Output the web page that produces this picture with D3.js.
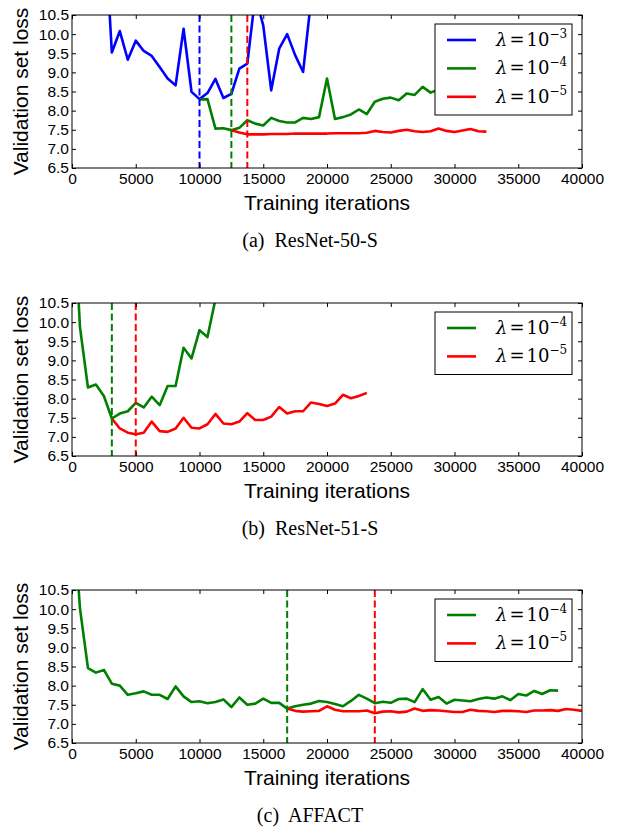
<!DOCTYPE html>
<html>
<head>
<meta charset="utf-8">
<script src="https://cdn.jsdelivr.net/npm/d3@7"></script>
<style>
  body { margin: 0; background: #fff; }
  svg text { font-family: "Liberation Sans", Arial, sans-serif; }
</style>
</head>
<body>
<svg id="chart" width="620" height="830"></svg>
<script>
// validation loss, [iteration, loss]
const blue1 = [[2500,13.2],[3125,9.52],[3750,10.08],[4375,9.33],[5000,9.83],[5625,9.56],[6250,9.43],[6875,9.14],
  [7500,8.84],[8125,8.66],[8750,10.14],[9375,8.49],[10000,8.30],[10625,8.46],[11250,8.83],[11875,8.33],[12500,8.44],
  [13125,9.10],[13750,9.23],[14375,11.0],[15000,10.23],[15625,8.53],[16250,9.62],[16875,10.0],[17500,9.45],
  [18125,9.01],[18750,10.9]];
const green1 = [[10000,8.29],[10625,8.30],[11250,7.53],[11875,7.54],[12500,7.49],[13125,7.55],[13750,7.75],[14375,7.66],
  [15000,7.61],[15625,7.81],[16250,7.73],[16875,7.69],[17500,7.69],[18125,7.81],[18750,7.78],[19375,7.83],[20000,8.84],
  [20625,7.78],[21250,7.83],[21875,7.90],[22500,8.03],[23125,7.91],[23750,8.23],[24375,8.31],[25000,8.34],[25625,8.27],
  [26250,8.45],[26875,8.41],[27500,8.62],[28125,8.47],[28750,8.55],[29375,8.62],[30000,8.70],[30625,8.66],[31250,8.78],
  [31875,8.80],[32500,8.85]];
const red1 = [[12500,7.49],[13125,7.43],[13750,7.38],[14375,7.38],[15000,7.38],[15625,7.39],[16250,7.39],[16875,7.39],
  [17500,7.40],[18125,7.40],[18750,7.40],[19375,7.40],[20000,7.40],[20625,7.41],[21250,7.41],[21875,7.41],[22500,7.41],
  [23125,7.42],[23750,7.47],[24375,7.44],[25000,7.43],[25625,7.47],[26250,7.50],[26875,7.46],[27500,7.44],[28125,7.46],
  [28750,7.53],[29375,7.47],[30000,7.44],[30625,7.48],[31250,7.52],[31875,7.46],[32500,7.45]];

const green2 = [[0,13.8],[625,9.87],[1250,8.29],[1875,8.37],[2500,8.07],[3125,7.48],[3750,7.61],[4375,7.67],[5000,7.89],
  [5625,7.77],[6250,8.05],[6875,7.83],[7500,8.33],[8125,8.33],[8750,9.33],[9375,9.05],[10000,9.79],[10625,9.61],
  [11250,10.6],[11875,11.3]];
const red2 = [[3125,7.48],[3750,7.22],[4375,7.11],[5000,7.07],[5625,7.11],[6250,7.40],[6875,7.15],[7500,7.13],[8125,7.22],
  [8750,7.50],[9375,7.24],[10000,7.22],[10625,7.33],[11250,7.60],[11875,7.35],[12500,7.33],[13125,7.40],[13750,7.62],
  [14375,7.44],[15000,7.44],[15625,7.53],[16250,7.78],[16875,7.61],[17500,7.67],[18125,7.67],[18750,7.90],[19375,7.86],
  [20000,7.81],[20625,7.87],[21250,8.10],[21875,8.01],[22500,8.07],[23125,8.15]];

const green3 = [[0,13.0],[625,10.02],[1250,8.46],[1875,8.34],[2500,8.41],[3125,8.05],[3750,8.00],[4375,7.76],[5000,7.80],
  [5625,7.85],[6250,7.76],[6875,7.76],[7500,7.65],[8125,7.98],[8750,7.72],[9375,7.57],[10000,7.59],[10625,7.54],
  [11250,7.57],[11875,7.64],[12500,7.44],[13125,7.69],[13750,7.50],[14375,7.53],[15000,7.66],[15625,7.55],[16250,7.55],
  [16875,7.40],[17500,7.46],[18125,7.50],[18750,7.53],[19375,7.60],[20000,7.57],[20625,7.52],[21250,7.46],[21875,7.60],
  [22500,7.76],[23125,7.66],[23750,7.54],[24375,7.58],[25000,7.55],[25625,7.65],[26250,7.66],[26875,7.57],[27500,7.91],
  [28125,7.63],[28750,7.70],[29375,7.53],[30000,7.63],[30625,7.61],[31250,7.59],[31875,7.65],[32500,7.69],[33125,7.66],
  [33750,7.72],[34375,7.62],[35000,7.78],[35625,7.74],[36250,7.86],[36875,7.78],[37500,7.88],[38125,7.87]];
const red3 = [[16875,7.40],[17500,7.34],[18125,7.32],[18750,7.33],[19375,7.34],[20000,7.46],[20625,7.37],[21250,7.33],
  [21875,7.33],[22500,7.33],[23125,7.35],[23750,7.28],[24375,7.32],[25000,7.33],[25625,7.30],[26250,7.32],[26875,7.40],
  [27500,7.34],[28125,7.36],[28750,7.35],[29375,7.33],[30000,7.31],[30625,7.31],[31250,7.37],[31875,7.34],[32500,7.33],
  [33125,7.31],[33750,7.34],[34375,7.34],[35000,7.33],[35625,7.31],[36250,7.35],[36875,7.35],[37500,7.36],[38125,7.34],
  [38750,7.39],[39375,7.37],[40000,7.34]];

// best iteration markers (dashed lines)
const best1 = [10000, 12500, 13750];
const best2 = [3125, 5000];
const best3 = [16875, 23750];

const lambdas1 = ["3", "4", "5"];
const lambdas2 = ["4", "5"];
const captions = ["(a)  ResNet-50-S", "(b)  ResNet-51-S", "(c)  AFFACT"];
const xTicks = [0, 5000, 10000, 15000, 20000, 25000, 30000, 35000, 40000];
const yTicks = [6.5, 7.0, 7.5, 8.0, 8.5, 9.0, 9.5, 10.0, 10.5];

const colors = {"3": "#0000ff", "4": "#008000", "5": "#ff0000"};

const svg = d3.select("#chart");
const left = 72, right = 582, plotH = 153;

const x = d3.scaleLinear().domain([0, 40000]).range([left, right]);

const line = d3.line();

function drawPanel(idx, top, series, best, lambdas, caption) {
    const y = d3.scaleLinear().domain([6.5, 10.5]).range([top + plotH, top]);
    const g = svg.append("g");

    g.append("clipPath").attr("id", "clip" + idx)
     .append("rect")
     .attr("x", left).attr("y", top)
     .attr("width", right - left).attr("height", plotH);

    const plot = g.append("g").attr("clip-path", "url(#clip" + idx + ")");

    series.forEach((s, i) => {
        plot.append("path")
            .datum(s)
            .attr("d", line.x(d => x(d[0])).y(d => y(d[1])))
            .attr("fill", "none")
            .attr("stroke", colors[lambdas[i]])
            .attr("stroke-width", 2.6)
            .attr("stroke-linejoin", "round");
    });

    best.forEach((b, i) => {
        plot.append("line")
            .attr("x1", x(b)).attr("x2", x(b))
            .attr("y1", top).attr("y2", top + plotH)
            .attr("stroke", colors[lambdas[i]])
            .attr("stroke-width", 2)
            .attr("stroke-dasharray", "7,3.5");
    });

    // axes, ticks inward on all four sides
    const fmtX = d3.format("d"), fmtY = d3.format(".1f");
    g.append("g").attr("transform", `translate(0,${top + plotH})`)
     .call(d3.axisBottom(x).tickValues(xTicks).tickSize(-4).tickSizeOuter(0).tickPadding(5).tickFormat(fmtX));
    g.append("g").attr("transform", `translate(0,${top})`)
     .call(d3.axisTop(x).tickValues(xTicks).tickSize(-4).tickSizeOuter(0).tickFormat(""));
    g.append("g").attr("transform", `translate(${left},0)`)
     .call(d3.axisLeft(y).tickValues(yTicks).tickSize(-4).tickSizeOuter(0).tickPadding(3).tickFormat(fmtY));
    g.append("g").attr("transform", `translate(${right},0)`)
     .call(d3.axisRight(y).tickValues(yTicks).tickSize(-4).tickSizeOuter(0).tickFormat(""));

    g.selectAll(".domain").remove();
    g.selectAll(".tick line").attr("stroke", "#000");
    g.selectAll(".tick text")
     .attr("font-size", 15.5)
     .attr("fill", "#000")
     .attr("font-family", "'Liberation Sans', Arial, sans-serif");

    g.append("rect")
     .attr("x", left).attr("y", top)
     .attr("width", right - left).attr("height", plotH)
     .attr("fill", "none").attr("stroke", "#000").attr("stroke-width", 1);

    // legend
    const lgTop = top + 9;
    const lgH = 34 + 28.5 * (lambdas.length - 1);
    const lg = g.append("g");
    lg.append("rect")
      .attr("x", 435).attr("y", lgTop)
      .attr("width", 137).attr("height", lgH)
      .attr("fill", "#fff").attr("stroke", "#000").attr("stroke-width", 1);
    lambdas.forEach((l, i) => {
        const ry = lgTop + 16 + 28.4 * i;
        lg.append("line")
          .attr("x1", 447).attr("x2", 476)
          .attr("y1", ry).attr("y2", ry)
          .attr("stroke", colors[l]).attr("stroke-width", 2.6);
        const t = lg.append("text")
          .attr("x", 496).attr("y", ry + 6)
          .attr("font-size", 18)
          .style("font-family", "'DejaVu Serif', 'Liberation Serif', serif");
        t.append("tspan").attr("font-style", "italic").text("λ");
        t.append("tspan").attr("dx", 2).text("=");
        t.append("tspan").attr("dx", 2).text("10");
        t.append("tspan").attr("dy", -8).attr("font-size", 12).text("−" + l);
    });

    // axis titles
    g.append("text")
     .attr("x", (left + right) / 2).attr("y", top + plotH + 42)
     .attr("text-anchor", "middle").attr("font-size", 21)
     .text("Training iterations");
    g.append("text")
     .attr("transform", `translate(28,${top + plotH / 2}) rotate(-90)`)
     .attr("text-anchor", "middle").attr("font-size", 21)
     .text("Validation set loss");

    g.append("text")
     .attr("x", 310).attr("y", top + plotH + 79)
     .attr("text-anchor", "middle").attr("font-size", 20)
     .style("font-family", "'Liberation Serif', 'Times New Roman', serif")
     .attr("xml:space", "preserve")
     .text(caption);
}

drawPanel(1, 15, [blue1, green1, red1], best1, lambdas1, captions[0]);
drawPanel(2, 303, [green2, red2], best2, lambdas2, captions[1]);
drawPanel(3, 590, [green3, red3], best3, lambdas2, captions[2]);
</script>
</body>
</html>
